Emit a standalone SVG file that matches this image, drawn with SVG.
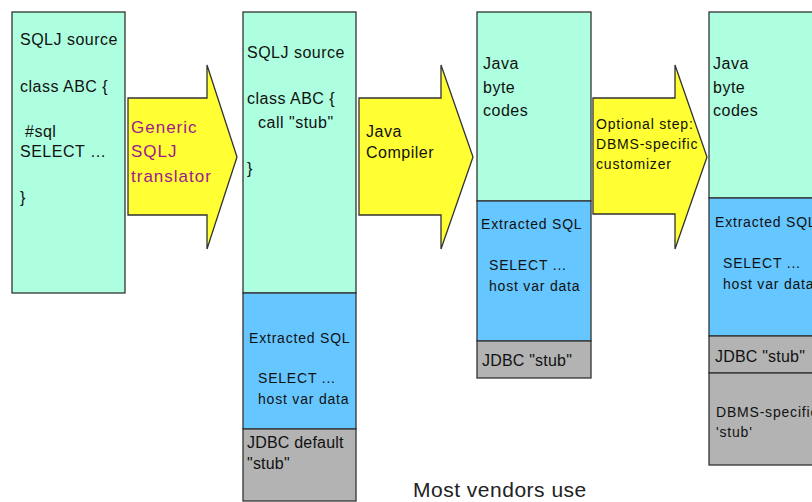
<svg xmlns="http://www.w3.org/2000/svg" width="812" height="502" viewBox="0 0 812 502">
<style>
.aq{fill:#adffdf;stroke:#333;stroke-width:1.3}
.bl{fill:#66c6ff;stroke:#333;stroke-width:1.3}
.gr{fill:#b3b3b3;stroke:#333;stroke-width:1.3}
.ar{fill:#ffff33;stroke:#333;stroke-width:1.3}
text{font-family:"Liberation Sans",Arial,sans-serif;fill:#111}
.t16{font-size:16px;letter-spacing:0.5px}
.t14{font-size:14px;letter-spacing:0.8px}
.mg{fill:#a01890;font-size:17px;letter-spacing:1px}
</style>
<rect width="812" height="502" fill="#fff"/>
<g id="box1">
<rect class="aq" x="12" y="12" width="113" height="281"/>
<text class="t16" x="20" y="45">SQLJ source</text>
<text class="t16" x="20" y="92">class ABC {</text>
<text class="t16" x="25" y="137">#sql</text>
<text class="t16" x="20" y="157">SELECT …</text>
<text class="t16" x="20" y="203">}</text>
</g>
<g id="arrow1">
<polygon class="ar" points="128,98 207,98 207,65 237,157 207,249 207,215 128,215"/>
<text class="mg" x="131" y="133">Generic</text>
<text class="mg" x="131" y="157">SQLJ</text>
<text class="mg" x="131" y="182">translator</text>
</g>
<g id="box2">
<rect class="aq" x="243" y="12" width="113" height="281"/>
<rect class="bl" x="243" y="293" width="113" height="136"/>
<rect class="gr" x="243" y="429" width="113" height="72"/>
<text class="t16" x="247" y="58">SQLJ source</text>
<text class="t16" x="247" y="104">class ABC {</text>
<text class="t16" x="258" y="128">call "stub"</text>
<text class="t16" x="247" y="174">}</text>
<text class="t14" x="249" y="343">Extracted SQL</text>
<text class="t14" x="258" y="383">SELECT ...</text>
<text class="t14" x="258" y="404">host var data</text>
<text class="t16" x="247" y="448" style="letter-spacing:0.2px">JDBC default</text>
<text class="t16" x="247" y="469" style="letter-spacing:0.2px">"stub"</text>
</g>
<g id="arrow2">
<polygon class="ar" points="359,98 441,98 441,65 473,157 441,249 441,215 359,215"/>
<text class="t16" x="366" y="137">Java</text>
<text class="t16" x="366" y="158">Compiler</text>
</g>
<g id="box3">
<rect class="aq" x="477" y="12" width="114" height="189"/>
<rect class="bl" x="477" y="201" width="114" height="140"/>
<rect class="gr" x="477" y="341" width="114" height="37"/>
<text class="t16" x="483" y="69">Java</text>
<text class="t16" x="483" y="93">byte</text>
<text class="t16" x="483" y="116">codes</text>
<text class="t14" x="481" y="229">Extracted SQL</text>
<text class="t14" x="489" y="270">SELECT ...</text>
<text class="t14" x="489" y="291">host var data</text>
<text class="t16" x="482" y="366" style="letter-spacing:0.2px">JDBC "stub"</text>
</g>
<g id="arrow3">
<polygon class="ar" points="593,98 675,98 675,65 707,157 675,249 675,214 593,214"/>
<text class="t14" x="596" y="129">Optional step:</text>
<text class="t14" x="596" y="149">DBMS-specific</text>
<text class="t14" x="596" y="169">customizer</text>
</g>
<g id="box4">
<rect class="aq" x="709" y="12" width="113" height="186"/>
<rect class="bl" x="709" y="198" width="113" height="138"/>
<rect class="gr" x="709" y="336" width="113" height="37"/>
<rect class="gr" x="709" y="373" width="113" height="92"/>
<text class="t16" x="713" y="69">Java</text>
<text class="t16" x="713" y="93">byte</text>
<text class="t16" x="713" y="116">codes</text>
<text class="t14" x="715" y="227">Extracted SQL</text>
<text class="t14" x="723" y="268">SELECT ...</text>
<text class="t14" x="723" y="289">host var data</text>
<text class="t16" x="715" y="362" style="letter-spacing:0.2px">JDBC "stub"</text>
<text class="t14" x="716" y="417">DBMS-specific</text>
<text class="t14" x="716" y="437">'stub'</text>
</g>
<g id="connectors"></g>
<text x="413" y="497" style="font-size:21px;letter-spacing:0.5px;fill:#222">Most vendors use</text>
</svg>
